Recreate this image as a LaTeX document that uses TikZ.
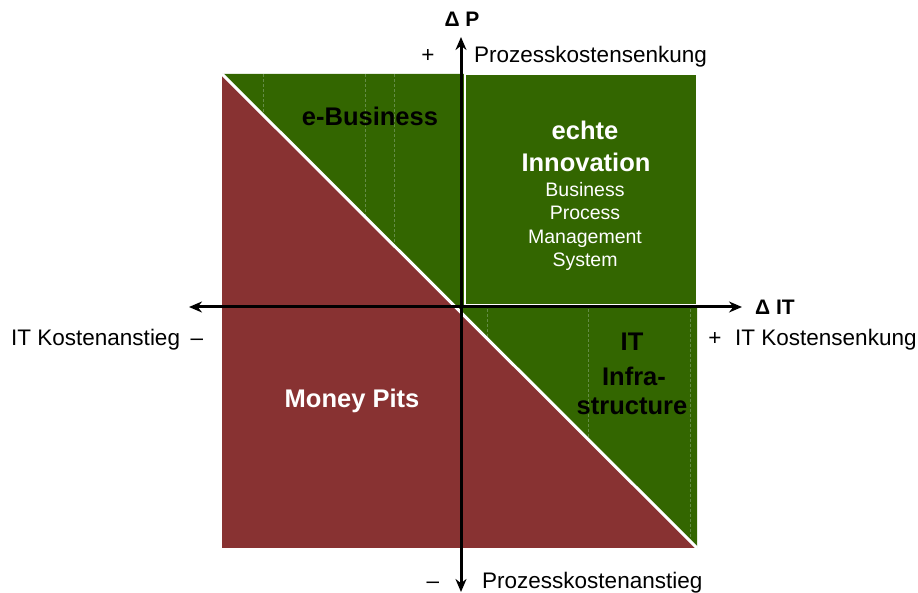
\documentclass[tikz,border=0pt]{standalone}
\usepackage{fontspec}
\setmainfont{Liberation Sans}
\usetikzlibrary{arrows.meta}
\definecolor{qgreen}{RGB}{51,102,0}
\definecolor{qred}{RGB}{136,50,50}
\definecolor{qdash}{RGB}{100,140,70}
\begin{document}
\begin{tikzpicture}[x=1pt,y=-1pt,
  big/.style={font=\fontsize{22.5}{27}\selectfont, inner sep=0pt},
  hd/.style={font=\bfseries\fontsize{25.5}{30}\selectfont, inner sep=0pt},
  ax/.style={font=\bfseries\fontsize{21}{25}\selectfont, inner sep=0pt},
  sm/.style={font=\fontsize{19.5}{23}\selectfont, inner sep=0pt, text=white},
  axisline/.style={line width=3pt, {Stealth[length=13pt,width=11pt]}-{Stealth[length=13pt,width=11pt]}},
  gridline/.style={qdash, densely dashed, line width=0.5pt}]
\useasboundingbox (0,0) rectangle (918,593);
\coordinate (TL) at (222,74);
\coordinate (TR) at (697,74);
\coordinate (BR) at (697,548);
\coordinate (BL) at (222,548);
\fill[qred] (TL) rectangle (BR);
\fill[qgreen] (TL) -- (TR) -- (BR) -- cycle;
\begin{scope}
  \clip (TL) -- (TR) -- (BR) -- cycle;
  \foreach \x in {263,365,394} \draw[gridline] (\x,74) -- (\x,307);
  \foreach \x in {487,588,690} \draw[gridline] (\x,309) -- (\x,548);
\end{scope}
\draw[white, line width=3pt] (TL) -- (BR);
\draw[white, line width=2pt, fill=qgreen] (465,74) rectangle (697,305);
% axes
\coordinate (xl) at (189,307);
\coordinate (xr) at (742,307);
\coordinate (yt) at (461,37);
\coordinate (yb) at (461,592);
\draw[axisline] (xl) -- (xr);
\draw[axisline] (yb) -- (yt);
% axis labels
\node[ax, anchor=base] (dp) at (462,27) {Δ P};
\node[big, anchor=base] (pplus) at (428,63) {+};
\node[big, anchor=base west] (pks) at (474,63) {Prozesskostensenkung};
\node[ax, anchor=base west] (dit) at (755,315) {Δ IT};
\node[big, anchor=base] (itplus) at (715,345) {+};
\node[big, anchor=base west] (iks) at (735,345) {IT Kostensenkung};
\node[big, anchor=base west] (ika) at (11,345) {IT Kostenanstieg};
\node[big, anchor=base] (itminus) at (197,345) {–};
\node[big, anchor=base] (pminus) at (433,588) {–};
\node[big, anchor=base west] (pka) at (482,588) {Prozesskostenanstieg};
% quadrant labels
\node[hd, anchor=base] (eb) at (370,126) {e-Business};
\node[hd, anchor=base, text=white] (ech) at (585,140) {echte};
\node[hd, anchor=base, text=white] (inn) at (586,172) {Innovation};
\node[sm, anchor=base] (bus) at (585,197) {Business};
\node[sm, anchor=base] (pro) at (585,220) {Process};
\node[sm, anchor=base] (man) at (585,244) {Management};
\node[sm, anchor=base] (sys) at (585,267) {System};
\node[hd, anchor=base] (it) at (632,351) {IT};
\node[hd, anchor=base] (inf) at (634,385) {Infra-};
\node[hd, anchor=base] (str) at (632,414) {structure};
\node[hd, anchor=base, text=white] (mp) at (352,407) {Money Pits};
\end{tikzpicture}
\end{document}
